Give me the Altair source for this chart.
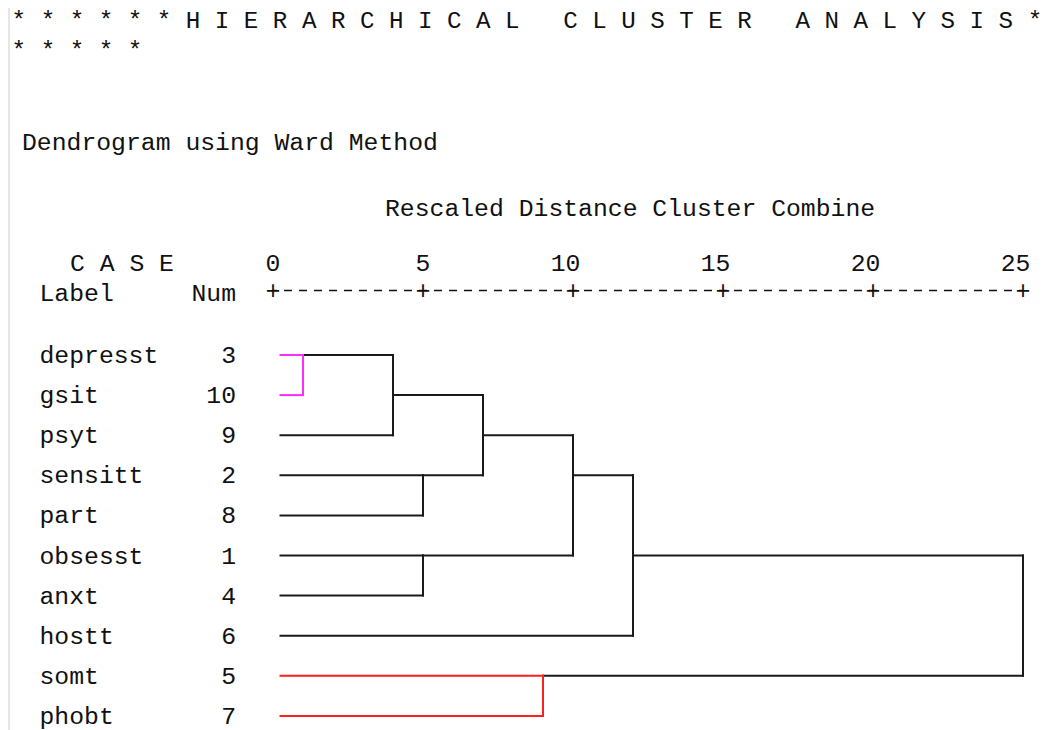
import altair as alt
import pandas as pd

# ---------------- data ----------------
labels = ["depresst", "gsit", "psyt", "sensitt", "part",
          "obsesst", "anxt", "hostt", "somt", "phobt"]
nums = ["3", "10", "9", "2", "8", "1", "4", "6", "5", "7"]

tick_values = [0, 5, 10, 15, 20, 25]
tick_labels = ["0", "5", "10", "15", "20", "25"]

leaf_start = 0.25
# horizontal branch segments (row index, from distance, to distance, colour group)
h_row = [0, 1, 0, 2, 1, 3, 4, 3, 5, 6, 5, 2, 3, 7, 5, 8, 9, 8]
h_from = [leaf_start, leaf_start, 1, leaf_start, 4, leaf_start, leaf_start, 5,
          leaf_start, leaf_start, 5, 7, 10, leaf_start, 12, leaf_start, leaf_start, 9]
h_to = [1, 1, 4, 4, 7, 5, 5, 7, 5, 5, 10, 10, 12, 12, 25, 9, 9, 25]
h_group = ["a", "a", "n", "n", "n", "n", "n", "n", "n", "n",
           "n", "n", "n", "n", "n", "b", "b", "n"]

# vertical joins (merge distance, top row, bottom row, colour group)
merge_dist = [1, 4, 5, 5, 7, 10, 12, 9, 25]
merge_top = [0, 0, 3, 5, 1, 2, 3, 8, 5]
merge_bottom = [1, 2, 4, 6, 3, 5, 7, 9, 8]
merge_group = ["a", "n", "n", "n", "n", "n", "n", "b", "n"]

NB = "\u00a0"
title_line1 = ("* * * * * * H I E R A R C H I C A L " + NB + NB
               + "C L U S T E R " + NB + NB + "A N A L Y S I S *")
title_line2 = "* * * * *"
method_text = "Dendrogram using Ward Method"
axis_title = "Rescaled Distance Cluster Combine"
case_text = "C A S E"
label_head = "Label"
num_head = "Num"

# ---------------- styling ----------------
W, H = 1048, 722
FONT = "Liberation Mono"
FS = 24.75
TXT = "#111111"

xscale = alt.Scale(domain=[-265 / 30, 783 / 30], nice=False, zero=False)
yscale = alt.Scale(domain=[-347 / 40.1, (H - 347) / 40.1], nice=False, zero=False, reverse=True)
cscale = alt.Scale(domain=["a", "b", "n"], range=["#ff2bff", "#ff1f1f", "#1a1a1a"])

hdf = pd.DataFrame({"row": h_row, "d0": h_from, "d1": h_to, "grp": h_group})
vdf = pd.DataFrame({"d": merge_dist, "r0": merge_top, "r1": merge_bottom, "grp": merge_group})
rdf = pd.DataFrame({"row": list(range(len(labels))), "label": labels, "num": nums})
tdf = pd.DataFrame({"v": tick_values, "t": tick_labels})
adf = pd.DataFrame({"a0": [tick_values[0]], "a1": [tick_values[-1]]})

hlines = alt.Chart(hdf).mark_rule(strokeWidth=2, strokeCap="square").encode(
    x=alt.X("d0:Q", scale=xscale, axis=None),
    x2="d1:Q",
    y=alt.Y("row:Q", scale=yscale, axis=None),
    color=alt.Color("grp:N", scale=cscale, legend=None),
)
vlines = alt.Chart(vdf).mark_rule(strokeWidth=2, strokeCap="square").encode(
    x=alt.X("d:Q", scale=xscale, axis=None),
    y=alt.Y("r0:Q", scale=yscale, axis=None),
    y2="r1:Q",
    color=alt.Color("grp:N", scale=cscale, legend=None),
)

row_labels = alt.Chart(rdf).mark_text(
    align="left", baseline="middle", font=FONT, fontSize=FS, color=TXT, dy=1
).encode(x=alt.value(31.5), y=alt.Y("row:Q", scale=yscale, axis=None), text="label:N")

row_nums = alt.Chart(rdf).mark_text(
    align="right", baseline="middle", font=FONT, fontSize=FS, color=TXT, dy=1
).encode(x=alt.value(228), y=alt.Y("row:Q", scale=yscale, axis=None), text="num:N")

tick_text = alt.Chart(tdf).mark_text(
    align="right", baseline="alphabetic", font=FONT, fontSize=FS, color=TXT, dx=FS * 0.3
).encode(x=alt.X("v:Q", scale=xscale, axis=None), y=alt.value(262.5), text="t:N")

plus = alt.Chart(tdf).mark_text(
    align="center", baseline="middle", font=FONT, fontSize=25, color=TXT, text="+"
).encode(x=alt.X("v:Q", scale=xscale, axis=None), y=alt.value(282.5))

dash_line = alt.Chart(adf).mark_rule(
    strokeDash=[8, 7], strokeDashOffset=4, strokeWidth=1.3, color=TXT
).encode(
    x=alt.X("a0:Q", scale=xscale, axis=None),
    x2="a1:Q",
    y=alt.value(282.5),
)


def header(text, x, y, align="left", size=FS):
    return alt.Chart(pd.DataFrame({"t": [text]})).mark_text(
        align=align, baseline="alphabetic", font=FONT, fontSize=size, color=TXT
    ).encode(x=alt.value(x), y=alt.value(y), text="t:N")


border = alt.Chart(adf).mark_rule(color="#e6e6e6", strokeWidth=3).encode(
    x=alt.value(0.5), y=alt.value(0), y2=alt.value(H)
)

chart = alt.layer(
    border,
    header(title_line1, 3.6, 20, size=24.2),
    header(title_line2, 3.6, 50, size=24.2),
    header(method_text, 14, 141.5),
    header(axis_title, 377, 207.5),
    header(case_text, 62, 262.5),
    header(label_head, 31.5, 292.5),
    header(num_head, 228, 292.5, "right"),
    tick_text,
    dash_line,
    plus,
    hlines,
    vlines,
    row_labels,
    row_nums,
).properties(
    width=W, height=H, padding=0, autosize=alt.AutoSizeParams(type="none"),
    background="white",
).configure_view(stroke=None)

chart.save("out.html", embed_options={"renderer": "svg", "actions": False})
